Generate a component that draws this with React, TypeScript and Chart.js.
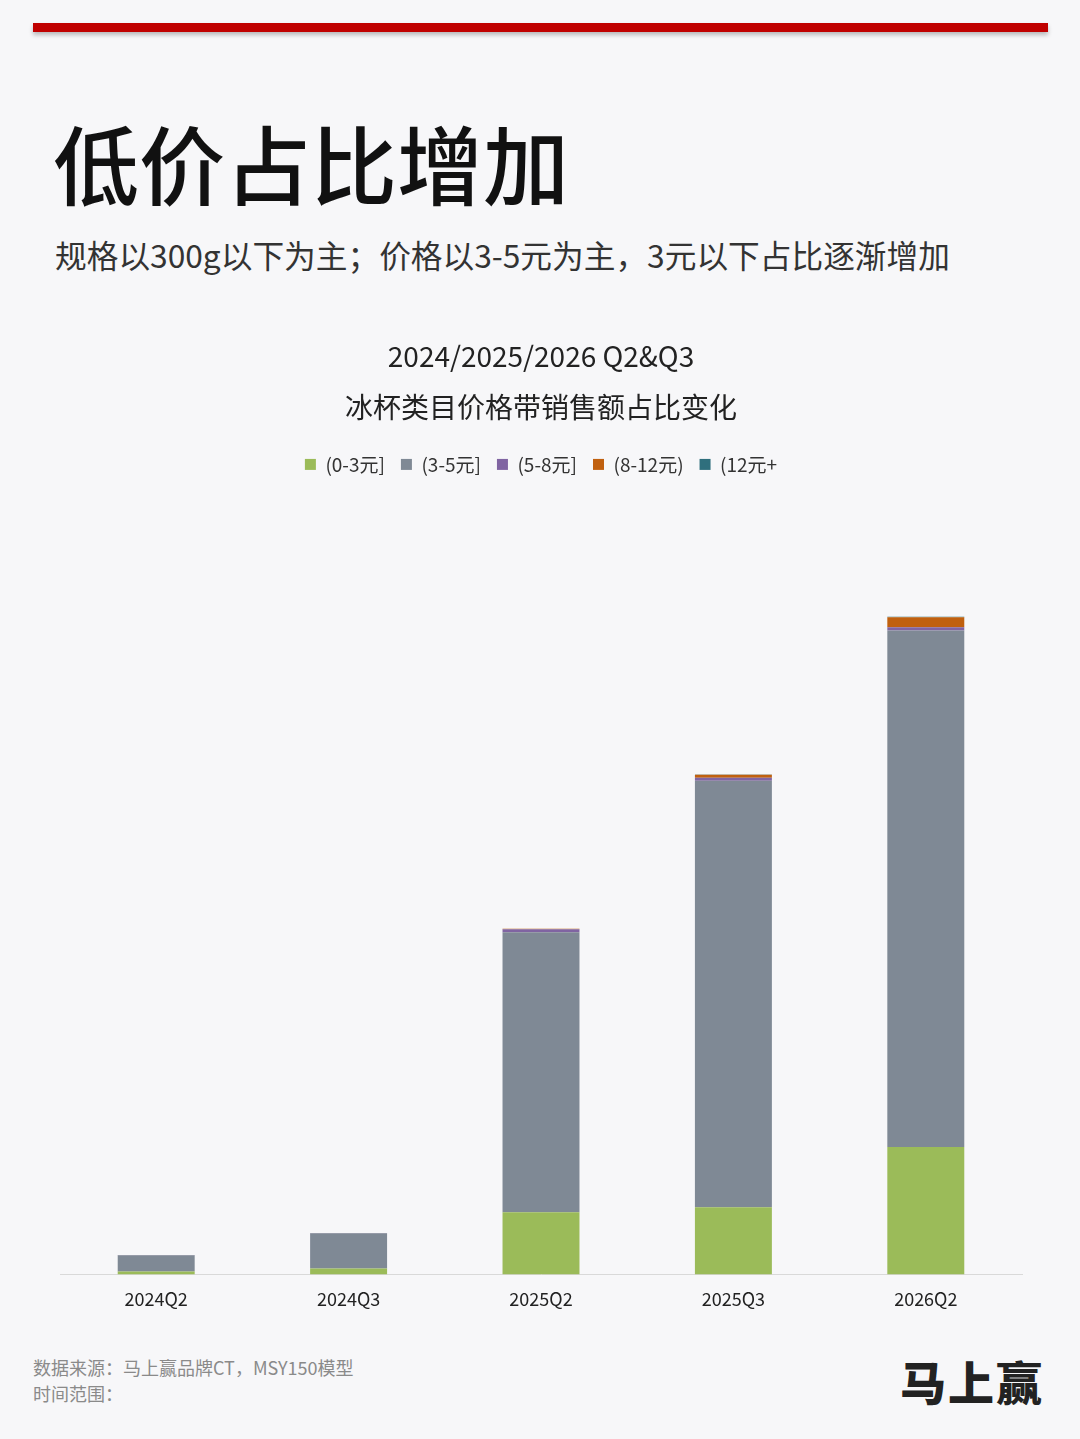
import React, { useEffect, useRef } from "react";
import { Chart, registerables } from "chart.js";

Chart.register(...registerables);

const categories = ["2024Q2", "2024Q3", "2025Q2", "2025Q3", "2026Q2"];
const seriesNames = ["(0-3元]", "(3-5元]", "(5-8元]", "(8-12元)", "(12元+"];
const s0to3 = [3, 6, 62, 67, 127];
const s3to5 = [16, 35, 279, 425, 515];
const s5to8 = [0.3, 0.3, 3, 3, 3];
const s8to12 = [0, 0, 0.5, 3, 10];
const s12plus = [0, 0, 0, 0.3, 0.5];
const seriesColors = ["#9bbb59", "#7f8995", "#8064a2", "#c0600f", "#2f6f7d"];
const chartTitle = ["2024/2025/2026 Q2&Q3", "冰杯类目价格带销售额占比变化"];

const FONT = "'Noto Sans CJK SC', 'Noto Sans', sans-serif";

export default function App() {
  const ref = useRef<HTMLCanvasElement | null>(null);

  useEffect(() => {
    document.body.style.margin = "0";
    const values = [s0to3, s3to5, s5to8, s8to12, s12plus];
    const chart = new Chart(ref.current as HTMLCanvasElement, {
      type: "bar",
      data: {
        labels: categories,
        datasets: values.map((v, i) => ({
          label: seriesNames[i],
          data: v,
          backgroundColor: seriesColors[i],
          borderWidth: 0,
          barPercentage: 0.4,
          categoryPercentage: 1,
        })),
      },
      options: {
        animation: false,
        responsive: false,
        maintainAspectRatio: false,
        layout: { padding: { left: 60, right: 58, top: 10, bottom: 1 } },
        plugins: {
          title: {
            display: true,
            text: chartTitle,
            color: "#222",
            font: { family: FONT, size: 28, weight: "normal", lineHeight: 1.82 },
            padding: { top: 4, bottom: 6 },
          },
          legend: {
            display: true,
            position: "top",
            labels: {
              color: "#333",
              font: { family: FONT, size: 19 },
              boxWidth: 11,
              boxHeight: 11,
              padding: 16,
            },
          },
          tooltip: { enabled: false },
        },
        scales: {
          x: {
            stacked: true,
            grid: { display: false },
            border: { color: "#d9d9d9", width: 1 },
            ticks: { color: "#222", font: { family: FONT, size: 18 }, padding: 6 },
          },
          y: {
            stacked: true,
            display: false,
            min: 0,
            max: 788,
          },
        },
      },
    });
    return () => chart.destroy();
  }, []);

  return (
    <div
      style={{
        position: "absolute",
        left: 0,
        top: 0,
        width: 1080,
        height: 1439,
        background: "#f7f7f9",
        fontFamily: FONT,
        overflow: "hidden",
      }}
    >
      <div
        style={{
          position: "absolute",
          left: 33,
          top: 23,
          width: 1015,
          height: 9,
          background: "#c00000",
          boxShadow: "0 3px 4px rgba(0,0,0,0.25)",
        }}
      />
      <div
        style={{
          position: "absolute",
          left: 53,
          top: 107,
          fontSize: 86,
          fontWeight: 500,
          color: "#111",
          lineHeight: "110px",
        }}
      >
        低价占比增加
      </div>
      <div
        style={{
          position: "absolute",
          left: 55,
          top: 233,
          fontSize: 31.7,
          color: "#333",
          lineHeight: "42px",
          whiteSpace: "nowrap",
        }}
      >
        规格以300g以下为主；价格以3-5元为主，3元以下占比逐渐增加
      </div>
      <canvas
        ref={ref}
        width={1080}
        height={1000}
        style={{ position: "absolute", left: 0, top: 317, width: 1080, height: 1000 }}
      />
      <div
        style={{
          position: "absolute",
          left: 33,
          top: 1354,
          fontSize: 18,
          color: "#8a8a8a",
          lineHeight: "26px",
        }}
      >
        <div>数据来源：马上赢品牌CT，MSY150模型</div>
        <div>时间范围：</div>
      </div>
      <div
        style={{
          position: "absolute",
          left: 900,
          top: 1350,
          fontSize: 46,
          fontWeight: 900,
          color: "#222",
          lineHeight: "60px",
          letterSpacing: 2,
        }}
      >
        马上赢
      </div>
    </div>
  );
}
